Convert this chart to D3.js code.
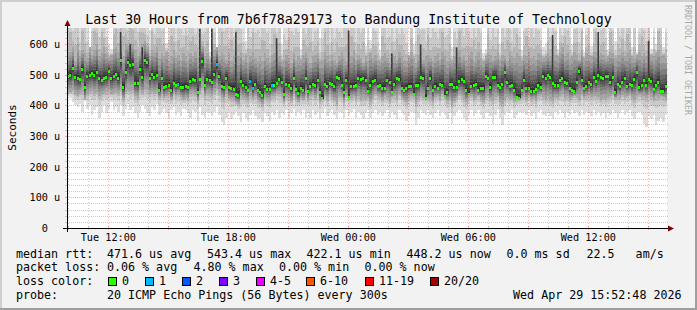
<!doctype html>
<html>
<head>
<meta charset="utf-8">
<script src="https://d3js.org/d3.v7.min.js"></script>
<style>
  body { margin: 0; background: #f2f2f2; }
  svg text { font-family: "DejaVu Sans Mono", monospace; white-space: pre; }
</style>
</head>
<body>
<div id="chart"></div>
<script>
var med = [
  497,500,523,493,489,485,519,459,497,500, 505,500,508,489,482,489,493,514,489,497,
  502,491,548,459,508,542,531,536,474,474, 519,493,548,542,489,502,493,500,451,489,
  459,463,468,451,474,466,470,459,459,463, 459,480,485,482,443,485,545,468,485,482,
  477,502,536,497,463,459,489,459,457,455, 436,434,480,466,459,451,480,457,470,451,
  443,434,463,455,455,466,466,474,485,477, 436,470,468,457,491,455,440,457,451,489,
  448,463,470,466,482,445,423,470,463,474, 470,463,493,489,468,443,482,428,463,463,
  468,489,485,489,482,448,468,
  480,482,463,466,457,457,482,477,443,470, 489,485,457,451,457,463,463,436,466,468,
  493,491,425,457,491,451,463,457,470,466, 432,443,470,470,459,459,480,485,480,451,
  436,463,468,470,451,457,457,497,491,459, 493,493,466,459,470,508,477,463,468,451,
  428,425,451,482,457,457,448,448,455,466, 459,497,491,500,493,474,468,468,482,489,
  477,474,457,451,448,477,514,482,457,463, 477,470,493,480,500,493,489,497,497,477,
  493,443,470,463,477,489,463,470,466,485, 508,459,466,482,468,485,480,455,466,477,
  448,448,462
];
// highest ping per column (values above the top are clipped)
var hi = [
  850,999,720,900,760,680,999,800,690,590, 760,999,850,720,999,800,700,600,585,900,
  999,760,999,999,850,720,999,900,800,760, 999,850,760,690,646,999,720,800,999,760,
  850,605,720,999,760,690,900,800,720,999, 760,850,999,720,800,999,690,760,850,575,
  999,720,590,800,999,760,850,690,999,720, 999,800,760,690,610,850,720,999,760,800,
  720,999,850,760,690,800,999,720,850,600, 760,690,999,800,720,850,760,585,900,720,
  800,999,690,760,850,620,720,999,800,690, 850,720,999,760,690,800,900,720,999,760,
  690,800,760,999,595,720,615,850,760,690, 580,999,800,720,760,850,690,999,720,800,
  760,690,575,850,600,720,999,760,800,690, 999,720,850,760,690,800,999,720,760,850,
  590,760,690,999,800,720,850,760,690,999, 720,800,760,570,585,999,690,850,720,760,
  600,850,720,999,760,690,800,999,720,580, 760,999,690,800,720,850,760,690,590,605,
  850,720,999,760,585,800,690,999,760,720, 600,760,850,690,999,575,720,800,595,760,
  999,690,760,850,720,580,999,760,610,800, 720,850,690,999,760,590,800,575,720,999,
  760,690,850,585,720,600,999,800,590,760
];
// upper edge of the denser smoke
var up = [
  560,575,590,545,600,560,580,570,555,590, 565,580,600,560,575,590,570,555,565,585,
  590,575,610,560,600,595,605,600,580,560, 575,600,610,590,560,580,575,590,555,570,
  560,575,545,560,580,555,565,550,570,560, 545,570,560,575,555,600,595,560,570,550,
  600,580,590,560,575,565,550,570,545,560, 585,560,575,550,565,540,560,575,555,545,
  560,545,570,555,540,565,570,580,560,545, 550,565,555,540,570,545,560,550,565,575,
  555,540,560,565,570,545,550,575,560,545, 565,550,540,560,575,555,545,570,560,580,
  550,565,555,540,560,545,570,555,565,550, 545,560,570,555,540,565,560,550,575,560,
  550,545,560,575,555,540,565,570,550,560, 565,555,545,560,570,550,575,560,545,555,
  545,560,570,580,555,565,550,560,575,545, 560,575,555,545,560,570,565,550,560,575,
  550,565,560,545,575,560,555,570,560,550, 565,560,575,555,560,550,570,565,555,560,
  570,560,550,565,560,575,590,560,570,555, 560,575,565,550,580,555,570,565,560,575,
  575,560,570,565,555,560,575,570,555,565, 565,575,560,570,580,560,555,565,575,560,
  570,560,575,565,560,570,580,560,565,555
];
// lower edge of the denser smoke
var dn = [
  440,445,450,438,432,440,445,420,438,445, 448,440,445,432,438,440,445,450,438,442,
  445,440,450,420,445,452,448,450,430,425, 450,440,455,450,438,445,440,445,425,438,
  425,432,438,420,440,430,435,428,420,425, 420,438,440,435,415,440,460,430,440,438,
  432,445,455,440,425,420,438,425,420,418, 410,405,430,425,420,418,432,420,430,418,
  412,405,425,420,418,430,432,440,438,430, 410,428,425,415,438,420,412,425,418,435,
  418,430,435,425,440,412,425,430,420,438, 425,418,405,432,428,410,430,438,425,430,
  422,430,418,425,420,428,410,425,438,430, 428,418,430,425,412,428,432,420,438,425,
  418,412,425,430,428,405,420,432,425,430, 425,420,410,428,432,418,438,425,415,420,
  400,415,425,438,430,420,412,428,432,418, 425,430,418,412,425,432,420,415,428,430,
  410,405,418,428,420,425,415,420,430,425, 428,418,432,420,425,415,430,435,428,420,
  430,420,415,428,425,432,438,425,430,418, 425,432,428,418,438,425,430,435,428,432,
  430,428,418,425,420,428,432,438,425,430, 425,435,428,432,438,425,418,430,435,428,
  432,425,438,428,418,430,425,432,428,420
];
// lowest ping per column
var lo = [
  430,425,410,400,395,405,380,415,390,400, 370,385,395,360,380,400,375,390,410,385,
  395,380,400,365,390,405,385,395,375,360, 380,400,390,375,365,395,385,405,370,380,
  390,375,360,385,395,370,380,365,390,385, 375,360,385,380,350,395,370,360,380,375,
  365,380,395,370,345,336,360,380,355,370, 380,365,345,375,360,350,370,385,365,355,
  360,345,375,365,350,380,370,385,360,375, 370,385,360,375,390,365,380,370,385,360,
  375,360,385,370,380,355,375,390,365,380, 385,370,355,380,375,360,385,370,380,390,
  360,380,370,355,375,385,360,375,385,370, 380,365,375,385,360,380,370,355,385,375,
  370,350,365,380,375,335,360,385,375,370, 385,370,360,375,385,365,380,370,355,375,
  340,365,380,385,375,360,350,370,385,365, 375,385,370,355,375,380,365,340,370,385,
  360,335,370,380,375,385,360,370,380,375, 380,370,385,365,375,355,380,385,370,365,
  375,365,355,380,370,385,375,360,380,370, 385,375,380,365,385,370,380,375,365,385,
  370,380,365,375,360,380,370,385,375,360, 375,385,370,380,385,365,355,375,380,370,
  340,330,365,355,370,335,350,360,345,370
];
// columns where pings were lost: [column, lost pings]
var lossPts = [[46,1],[62,1],[76,1],[77,1],[85,1]];
// tall dark strands: [column, top value]
var strands = [[22,640],[26,600],[31,590],[55,650],[60,650],[70,640],[87,620],[117,645],
               [135,570],[147,600],[162,590],[202,630],[221,640],[242,610]];

var lossLabels = ["0","1","2","3","4-5","6-10","11-19","20/20"];
var lossColors = ["#26ff00","#00b8ff","#0059ff","#7e00ff","#ee00ff","#ff5500","#ff0000","#a00000"];
var rttStats = ["471.6 us avg","543.4 us max","422.1 us min","448.2 us now","0.0 ms sd","22.5   am/s"];
var lossStats = ["0.06 % avg","4.80 % max","0.00 % min","0.00 % now"];
var yTicks = [0,100,200,300,400,500,600];

var title = "Last 30 Hours from 7b6f78a29173 to Bandung Institute of Technology";
var probeText = "20 ICMP Echo Pings (56 Bytes) every 300s";
var stamp = "Wed Apr 29 15:52:48 2026";

var W = 697, H = 310;
var plot = {left: 67, right: 667, top: 28, bottom: 228};
var start = new Date(2026, 3, 28, 9, 56, 0),
    end = new Date(2026, 3, 29, 15, 56, 0);
var step = (end - start) / med.length;

var svg = d3.select("#chart").append("svg")
    .attr("width", W).attr("height", H);

// background + 3d frame
svg.append("rect").attr("width", W).attr("height", H).attr("fill", "#f2f2f2");
svg.append("path").attr("d", "M0,0H697V2H2V310H0Z").attr("fill", "#cfcfcf");
svg.append("path").attr("d", "M697,0V310H0V308H695V0Z").attr("fill", "#9e9e9e");

var x = d3.scaleTime().domain([start, end]).range([plot.left, plot.right]);
var y = d3.scaleLinear().domain([0, 653]).range([plot.bottom, plot.top]);

svg.append("clipPath").attr("id", "clip").append("rect")
    .attr("x", plot.left).attr("y", plot.top)
    .attr("width", plot.right - plot.left).attr("height", plot.bottom - plot.top);

svg.append("rect")
    .attr("x", plot.left).attr("y", plot.top)
    .attr("width", plot.right - plot.left).attr("height", plot.bottom - plot.top)
    .attr("fill", "#ffffff");

// smoke: 10 grey layers, outer ones lightest
var layerGrey = [221,202,183,164,145,126,107,88,69,50];
var outerF = [1, 0.4, 0.15];
var innerF = [1, 0.78, 0.6, 0.45, 0.32, 0.2, 0.1];
var smoke = [];
med.forEach(function(m, i) {
  var t0 = new Date(+start + i * step), t1 = new Date(+start + (i + 1) * step);
  var d = Math.min(dn[i], m - 4), u = Math.max(up[i], m + 4);
  for (var k = 0; k < 10; k++) {
    var top, bot;
    if (k < 3) { top = u + (hi[i] - u) * outerF[k]; bot = d - (d - lo[i]) * outerF[k]; }
    else { var f = innerF[k - 3]; top = m + (u - m) * f; bot = m - (m - d) * f; }
    smoke.push({t0: t0, t1: t1, top: top, bot: bot, g: layerGrey[k]});
  }
});

var gPlot = svg.append("g").attr("clip-path", "url(#clip)");
gPlot.selectAll("rect.smoke").data(smoke).enter().append("rect")
    .attr("class", "smoke")
    .attr("x", function(d) { return x(d.t0); })
    .attr("width", function(d) { return x(d.t1) - x(d.t0); })
    .attr("y", function(d) { return y(d.top); })
    .attr("height", function(d) { return y(d.bot) - y(d.top); })
    .attr("fill", function(d) { return "rgb(" + d.g + "," + d.g + "," + d.g + ")"; })
    .attr("shape-rendering", "crispEdges");

gPlot.selectAll("rect.strand").data(strands).enter().append("rect")
    .attr("x", function(d) { return x(new Date(+start + d[0] * step)); })
    .attr("width", 1.6)
    .attr("y", function(d) { return y(d[1]); })
    .attr("height", function(d) { return y(med[d[0]]) - y(d[1]); })
    .attr("fill", "#3c3c3c");

// grid
var minorCol = "rgba(140,140,140,0.45)", majorCol = "rgba(240,0,0,0.32)";
var gGrid = svg.append("g").attr("shape-rendering", "crispEdges");
var hLines = d3.range(0, 660, 20);
gGrid.selectAll("line.h").data(hLines).enter().append("line")
    .attr("x1", plot.left).attr("x2", plot.right + 1)
    .attr("y1", function(d) { return Math.round(y(d)) + 0.5; })
    .attr("y2", function(d) { return Math.round(y(d)) + 0.5; })
    .attr("stroke", function(d) { return d % 100 === 0 ? majorCol : minorCol; })
    .attr("stroke-dasharray", "1,1");
gGrid.selectAll("line.htick").data(hLines).enter().append("line")
    .attr("x1", plot.left - 2).attr("x2", plot.left)
    .attr("y1", function(d) { return Math.round(y(d)) + 0.5; })
    .attr("y2", function(d) { return Math.round(y(d)) + 0.5; })
    .attr("stroke", function(d) { return d % 100 === 0 ? majorCol : minorCol; });

var hours = d3.timeHour.range(start, end);
gGrid.selectAll("line.v").data(hours).enter().append("line")
    .attr("x1", function(d) { return Math.round(x(d)) + 0.5; })
    .attr("x2", function(d) { return Math.round(x(d)) + 0.5; })
    .attr("y1", plot.top).attr("y2", plot.bottom)
    .attr("stroke", function(d) { return d.getHours() % 3 === 0 ? majorCol : minorCol; })
    .attr("stroke-dasharray", "1,2");
gGrid.selectAll("line.vtick").data(hours).enter().append("line")
    .attr("x1", function(d) { return Math.round(x(d)) + 0.5; })
    .attr("x2", function(d) { return Math.round(x(d)) + 0.5; })
    .attr("y1", plot.bottom - 2).attr("y2", plot.bottom + 2)
    .attr("stroke", function(d) { return d.getHours() % 3 === 0 ? majorCol : minorCol; });

// median markers coloured by loss
var lossMap = {};
lossPts.forEach(function(p) { lossMap[p[0]] = p[1]; });
function lossColor(n) {
  if (n === 0) return lossColors[0];
  if (n <= 3) return lossColors[n];
  if (n <= 5) return lossColors[4];
  if (n <= 10) return lossColors[5];
  if (n <= 19) return lossColors[6];
  return lossColors[7];
}
gPlot.selectAll("rect.med").data(med).enter().append("rect")
    .attr("x", function(d, i) { return Math.round(x(new Date(+start + i * step))); })
    .attr("width", 2)
    .attr("y", function(d) { return Math.round(y(d)) - 1; })
    .attr("height", 3)
    .attr("fill", function(d, i) { return lossColor(lossMap[i] || 0); })
    .attr("shape-rendering", "crispEdges");

// axes
var gAxis = svg.append("g").attr("shape-rendering", "crispEdges");
gAxis.append("line").attr("x1", plot.left - 4).attr("x2", plot.right + 4)
    .attr("y1", plot.bottom + 0.5).attr("y2", plot.bottom + 0.5).attr("stroke", "#000");
gAxis.append("line").attr("x1", plot.left + 0.5).attr("x2", plot.left + 0.5)
    .attr("y1", plot.bottom + 4).attr("y2", plot.top - 4).attr("stroke", "#000");
svg.append("path").attr("d", "M668,225.5L674,228.5L668,231.5Z").attr("fill", "#7f0000");
svg.append("path").attr("d", "M64.5,26L67.5,20L70.5,26Z").attr("fill", "#7f0000");

svg.selectAll("text.ytick").data(yTicks).enter().append("text")
    .attr("x", 29.5)
    .attr("y", function(d) { return Math.round(y(d)) + 3.5; })
    .attr("font-size", "10.2px")
    .text(function(d) { return d === 0 ? "  0" : d + " u"; });

var fmt = d3.timeFormat("%a %H:%M");
var labelTimes = hours.filter(function(d) { return d.getHours() % 6 === 0; });
svg.selectAll("text.xtick").data(labelTimes).enter().append("text")
    .attr("x", function(d) { return x(d); })
    .attr("y", 240.5)
    .attr("text-anchor", "middle")
    .attr("font-size", "10.2px")
    .text(function(d) { return fmt(d); });

// titles
svg.append("text").attr("x", 348.5).attr("y", 24).attr("text-anchor", "middle")
    .attr("font-size", "13.25px").text(title);
svg.append("text").attr("transform", "translate(15.5,127.5) rotate(-90)")
    .attr("text-anchor", "middle").attr("font-size", "11px").text("Seconds");
svg.append("text").attr("transform", "translate(684.5,5) rotate(90)")
    .attr("font-size", "8.3px").attr("fill", "#a8a8a8").text("RRDTOOL / TOBI OETIKER");

// legend
var lf = "11.66px";
var rttX = [107, 207, 306.5, 406.5, 506.5, 586.5];
var lossX = [107, 193.5, 279, 364.5];
var swatchX = [108, 145, 182, 219, 256, 306, 365, 430];
var lines = [257.7, 271.3, 284.9, 298.5];

svg.append("text").attr("x", 16).attr("y", lines[0]).attr("font-size", lf).text("median rtt:");
rttStats.forEach(function(s, i) {
  svg.append("text").attr("x", rttX[i]).attr("y", lines[0]).attr("font-size", lf).text(s);
});
svg.append("text").attr("x", 16).attr("y", lines[1]).attr("font-size", lf).text("packet loss:");
lossStats.forEach(function(s, i) {
  svg.append("text").attr("x", lossX[i]).attr("y", lines[1]).attr("font-size", lf).text(s);
});
svg.append("text").attr("x", 16).attr("y", lines[2]).attr("font-size", lf).text("loss color:");
lossLabels.forEach(function(s, i) {
  svg.append("rect").attr("x", swatchX[i] + 0.5).attr("y", 277.5)
      .attr("width", 8).attr("height", 8)
      .attr("fill", lossColors[i]).attr("stroke", "#000").attr("shape-rendering", "crispEdges");
  svg.append("text").attr("x", swatchX[i] + 14).attr("y", lines[2]).attr("font-size", lf).text(s);
});
svg.append("text").attr("x", 16).attr("y", lines[3]).attr("font-size", lf).text("probe:");
svg.append("text").attr("x", 107).attr("y", lines[3]).attr("font-size", lf).text(probeText);
svg.append("text").attr("x", 681.5).attr("y", lines[3]).attr("text-anchor", "end")
    .attr("font-size", lf).text(stamp);
</script>
</body>
</html>
